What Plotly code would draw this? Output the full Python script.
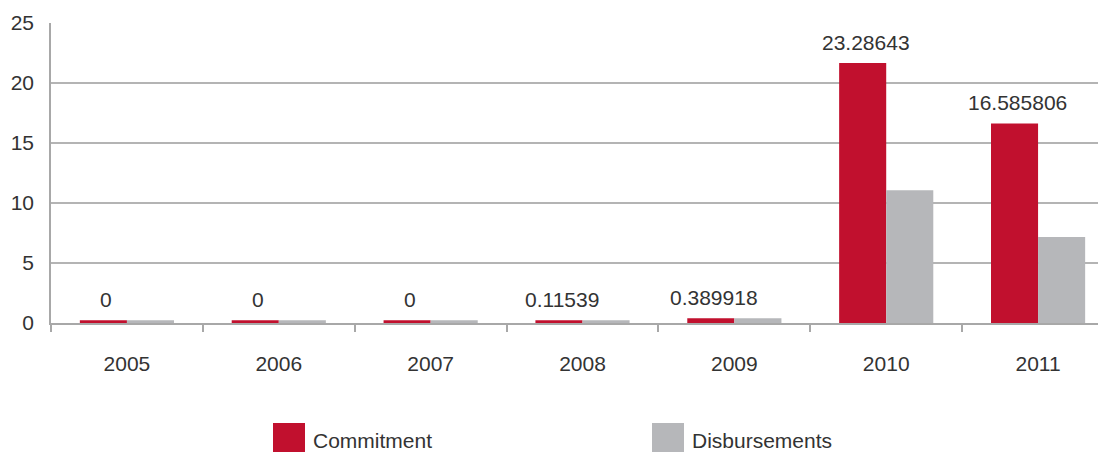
import plotly.graph_objects as go

years = ["2005", "2006", "2007", "2008", "2009", "2010", "2011"]
commitment = [0.22, 0.22, 0.22, 0.22, 0.39, 21.67, 16.63]
disbursements = [0.22, 0.22, 0.22, 0.22, 0.39, 11.07, 7.16]
commit_labels = ["0", "0", "0", "0.11539", "0.389918", "23.28643", "16.585806"]
y_ticks = [0, 5, 10, 15, 20, 25]
series_names = ["Commitment", "Disbursements"]

RED = "#C1102E"
GREY = "#B6B7BA"
TXT = "#333333"
FONT = "Liberation Sans"
FS = 21

xs = list(range(len(years)))

fig = go.Figure()
fig.add_trace(go.Bar(x=xs, y=commitment, name=series_names[0], marker_color=RED,
                     marker_line_width=0, showlegend=False))
fig.add_trace(go.Bar(x=xs, y=disbursements, name=series_names[1], marker_color=GREY,
                     marker_line_width=0, showlegend=False))

bar_w = 0.31
for x, v, lab in zip(xs, commitment, commit_labels):
    fig.add_annotation(x=x - bar_w / 2 + 0.02, y=v, text=lab, showarrow=False,
                       yanchor="bottom", yshift=7,
                       font=dict(family=FONT, size=FS, color=TXT))

# page offset (body margin) of 8px is taken into account
OFF = 8
L, W = 51 - OFF, 1063
TOP, H = 23 - OFF, 300
def px2paper_x(p):
    return (p - OFF - L) / W
def px2paper_y(p):
    return (TOP + H - (p - OFF)) / H

legend_items = [(273, series_names[0], RED), (652, series_names[1], GREY)]
for xpix, name, col in legend_items:
    fig.add_shape(type="rect", xref="paper", yref="paper",
                  x0=px2paper_x(xpix), x1=px2paper_x(xpix + 32),
                  y0=px2paper_y(423), y1=px2paper_y(455),
                  fillcolor=col, line_width=0)
    fig.add_annotation(xref="paper", yref="paper", x=px2paper_x(xpix + 38),
                       y=px2paper_y(440), text=name, showarrow=False,
                       xanchor="left", yanchor="middle",
                       font=dict(family=FONT, size=FS, color=TXT))

fig.update_layout(
    width=1106, height=452,
    margin=dict(l=L, r=1106 - L - W, t=TOP, b=452 - TOP - H, autoexpand=False),
    paper_bgcolor="white", plot_bgcolor="white",
    barmode="group", bargap=0.38, bargroupgap=0,
    font=dict(family=FONT, color=TXT),
    xaxis=dict(
        range=[-0.5, 6.5], tickvals=xs, ticktext=years,
        ticks="outside", ticklen=8, tickcolor="rgba(0,0,0,0)",
        ticklabelstandoff=13,
        tickfont=dict(family=FONT, size=FS, color=TXT),
        showgrid=False, zeroline=False, automargin=False,
        showline=True, linecolor="#A8A8A8", linewidth=2,
        minor=dict(tick0=0.5, dtick=1, ticks="outside", ticklen=7,
                   tickcolor="#A8A8A8", tickwidth=2, showgrid=False),
        layer="below traces",
    ),
    yaxis=dict(
        range=[0, 25], tickvals=y_ticks,
        tickfont=dict(family=FONT, size=FS, color=TXT),
        showgrid=True, gridcolor="#B4B4B4", gridwidth=1.5,
        zeroline=False, showline=True, linecolor="#A8A8A8", linewidth=1.5,
        ticks="", ticklabelstandoff=11, automargin=False,
        layer="below traces",
    ),
)

fig.write_html("out.html")
